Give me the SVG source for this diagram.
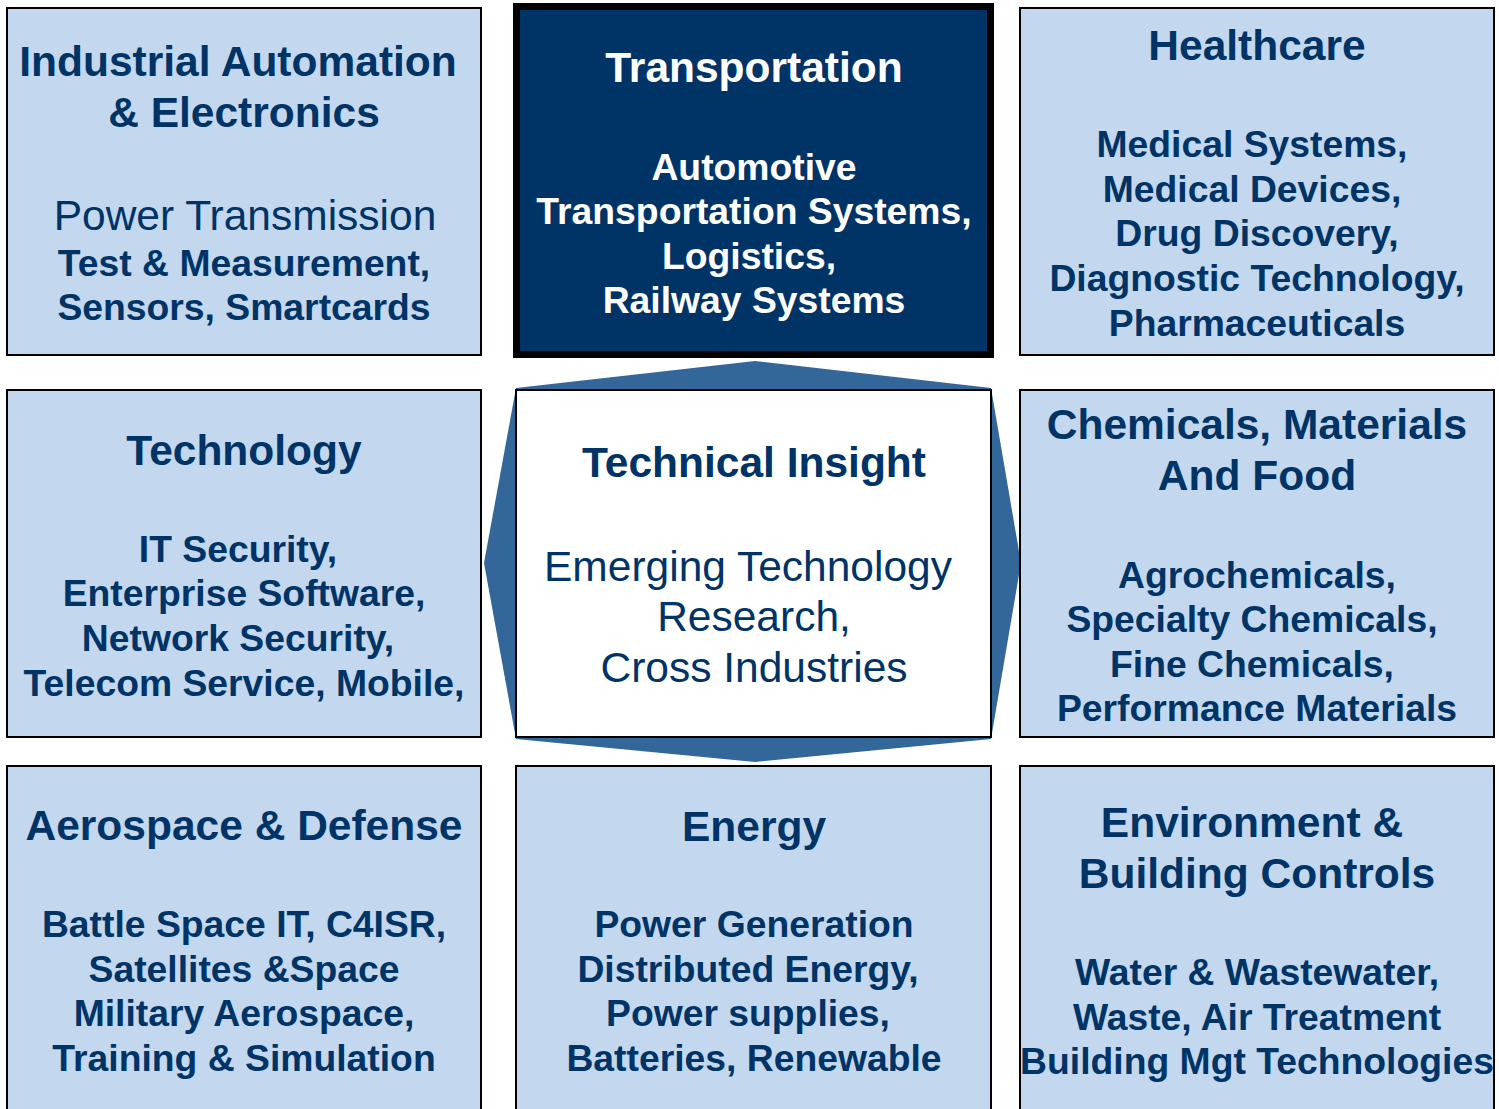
<svg xmlns="http://www.w3.org/2000/svg" width="1499" height="1109" viewBox="0 0 1499 1109">
  <style>
    .box { fill: #c3d8ee; stroke: #000; stroke-width: 2; }
    .t { font-family: "Liberation Sans", Arial, sans-serif; fill: #003366; text-anchor: middle; }
    .h { font-size: 42.5px; font-weight: bold; }
    .b { font-size: 37.3px; font-weight: bold; }
    .r { font-size: 42.5px; }
    .w { fill: #ffffff; }
  </style>
  <rect width="1499" height="1109" fill="#ffffff"/>

  <!-- hexagon behind the centre panel -->
  <g id="connectors">
    <polygon points="755,361 991,388 1021,563 991,739 755,762 516,739 484,563 516,388" fill="#336699"/>
  </g>

  <g id="industrial">
    <rect class="box" x="7" y="8" width="474" height="347"/>
    <text class="t h" x="238" y="76">Industrial Automation</text>
    <text class="t h" x="244" y="127">&amp; Electronics</text>
    <text class="t r" x="245" y="230">Power Transmission</text>
    <text class="t b" x="244" y="276">Test &amp; Measurement,</text>
    <text class="t b" x="244" y="320">Sensors, Smartcards</text>
  </g>

  <g id="transportation">
    <rect x="516.5" y="6.5" width="474" height="348" fill="#003366" stroke="#000" stroke-width="7"/>
    <text class="t h w" x="754" y="82">Transportation</text>
    <text class="t b w" x="754" y="180">Automotive</text>
    <text class="t b w" x="754" y="224">Transportation Systems,</text>
    <text class="t b w" x="749" y="269">Logistics,</text>
    <text class="t b w" x="754" y="313">Railway Systems</text>
  </g>

  <g id="healthcare">
    <rect class="box" x="1020" y="8" width="474" height="347"/>
    <text class="t h" x="1257" y="60">Healthcare</text>
    <text class="t b" x="1252" y="157">Medical Systems,</text>
    <text class="t b" x="1252" y="202">Medical Devices,</text>
    <text class="t b" x="1257" y="246">Drug Discovery,</text>
    <text class="t b" x="1257" y="291">Diagnostic Technology,</text>
    <text class="t b" x="1257" y="336">Pharmaceuticals</text>
  </g>

  <g id="technology">
    <rect class="box" x="7" y="390" width="474" height="347"/>
    <text class="t h" x="244" y="465">Technology</text>
    <text class="t b" x="238" y="562">IT Security,</text>
    <text class="t b" x="244" y="606">Enterprise Software,</text>
    <text class="t b" x="238" y="651">Network Security,</text>
    <text class="t b" x="244" y="696">Telecom Service, Mobile,</text>
  </g>

  <g id="technical-insight">
    <rect x="516" y="390" width="475" height="347" fill="#ffffff" stroke="#000" stroke-width="2"/>
    <text class="t h" x="754" y="477">Technical Insight</text>
    <text class="t r" x="748" y="581">Emerging Technology</text>
    <text class="t r" x="754" y="631">Research,</text>
    <text class="t r" x="754" y="682">Cross Industries</text>
  </g>

  <g id="chemicals">
    <rect class="box" x="1020" y="390" width="474" height="347"/>
    <text class="t h" x="1257" y="439">Chemicals, Materials</text>
    <text class="t h" x="1257" y="490">And Food</text>
    <text class="t b" x="1257" y="588">Agrochemicals,</text>
    <text class="t b" x="1252" y="632">Specialty Chemicals,</text>
    <text class="t b" x="1252" y="677">Fine Chemicals,</text>
    <text class="t b" x="1257" y="721">Performance Materials</text>
  </g>

  <g id="aerospace">
    <rect class="box" x="7" y="766" width="474" height="350"/>
    <text class="t h" x="244" y="840">Aerospace &amp; Defense</text>
    <text class="t b" x="244" y="937">Battle Space IT, C4ISR,</text>
    <text class="t b" x="244" y="982">Satellites &amp;Space</text>
    <text class="t b" x="244" y="1026">Military Aerospace,</text>
    <text class="t b" x="244" y="1071">Training &amp; Simulation</text>
  </g>

  <g id="energy">
    <rect class="box" x="516" y="766" width="475" height="350"/>
    <text class="t h" x="754" y="841">Energy</text>
    <text class="t b" x="754" y="937">Power Generation</text>
    <text class="t b" x="748" y="982">Distributed Energy,</text>
    <text class="t b" x="748" y="1026">Power supplies,</text>
    <text class="t b" x="754" y="1071">Batteries, Renewable</text>
  </g>

  <g id="environment">
    <rect class="box" x="1020" y="766" width="474" height="350"/>
    <text class="t h" x="1252" y="837">Environment &amp;</text>
    <text class="t h" x="1257" y="888">Building Controls</text>
    <text class="t b" x="1257" y="985">Water &amp; Wastewater,</text>
    <text class="t b" x="1257" y="1030">Waste, Air Treatment</text>
    <text class="t b" x="1257" y="1074">Building Mgt Technologies</text>
  </g>
</svg>
